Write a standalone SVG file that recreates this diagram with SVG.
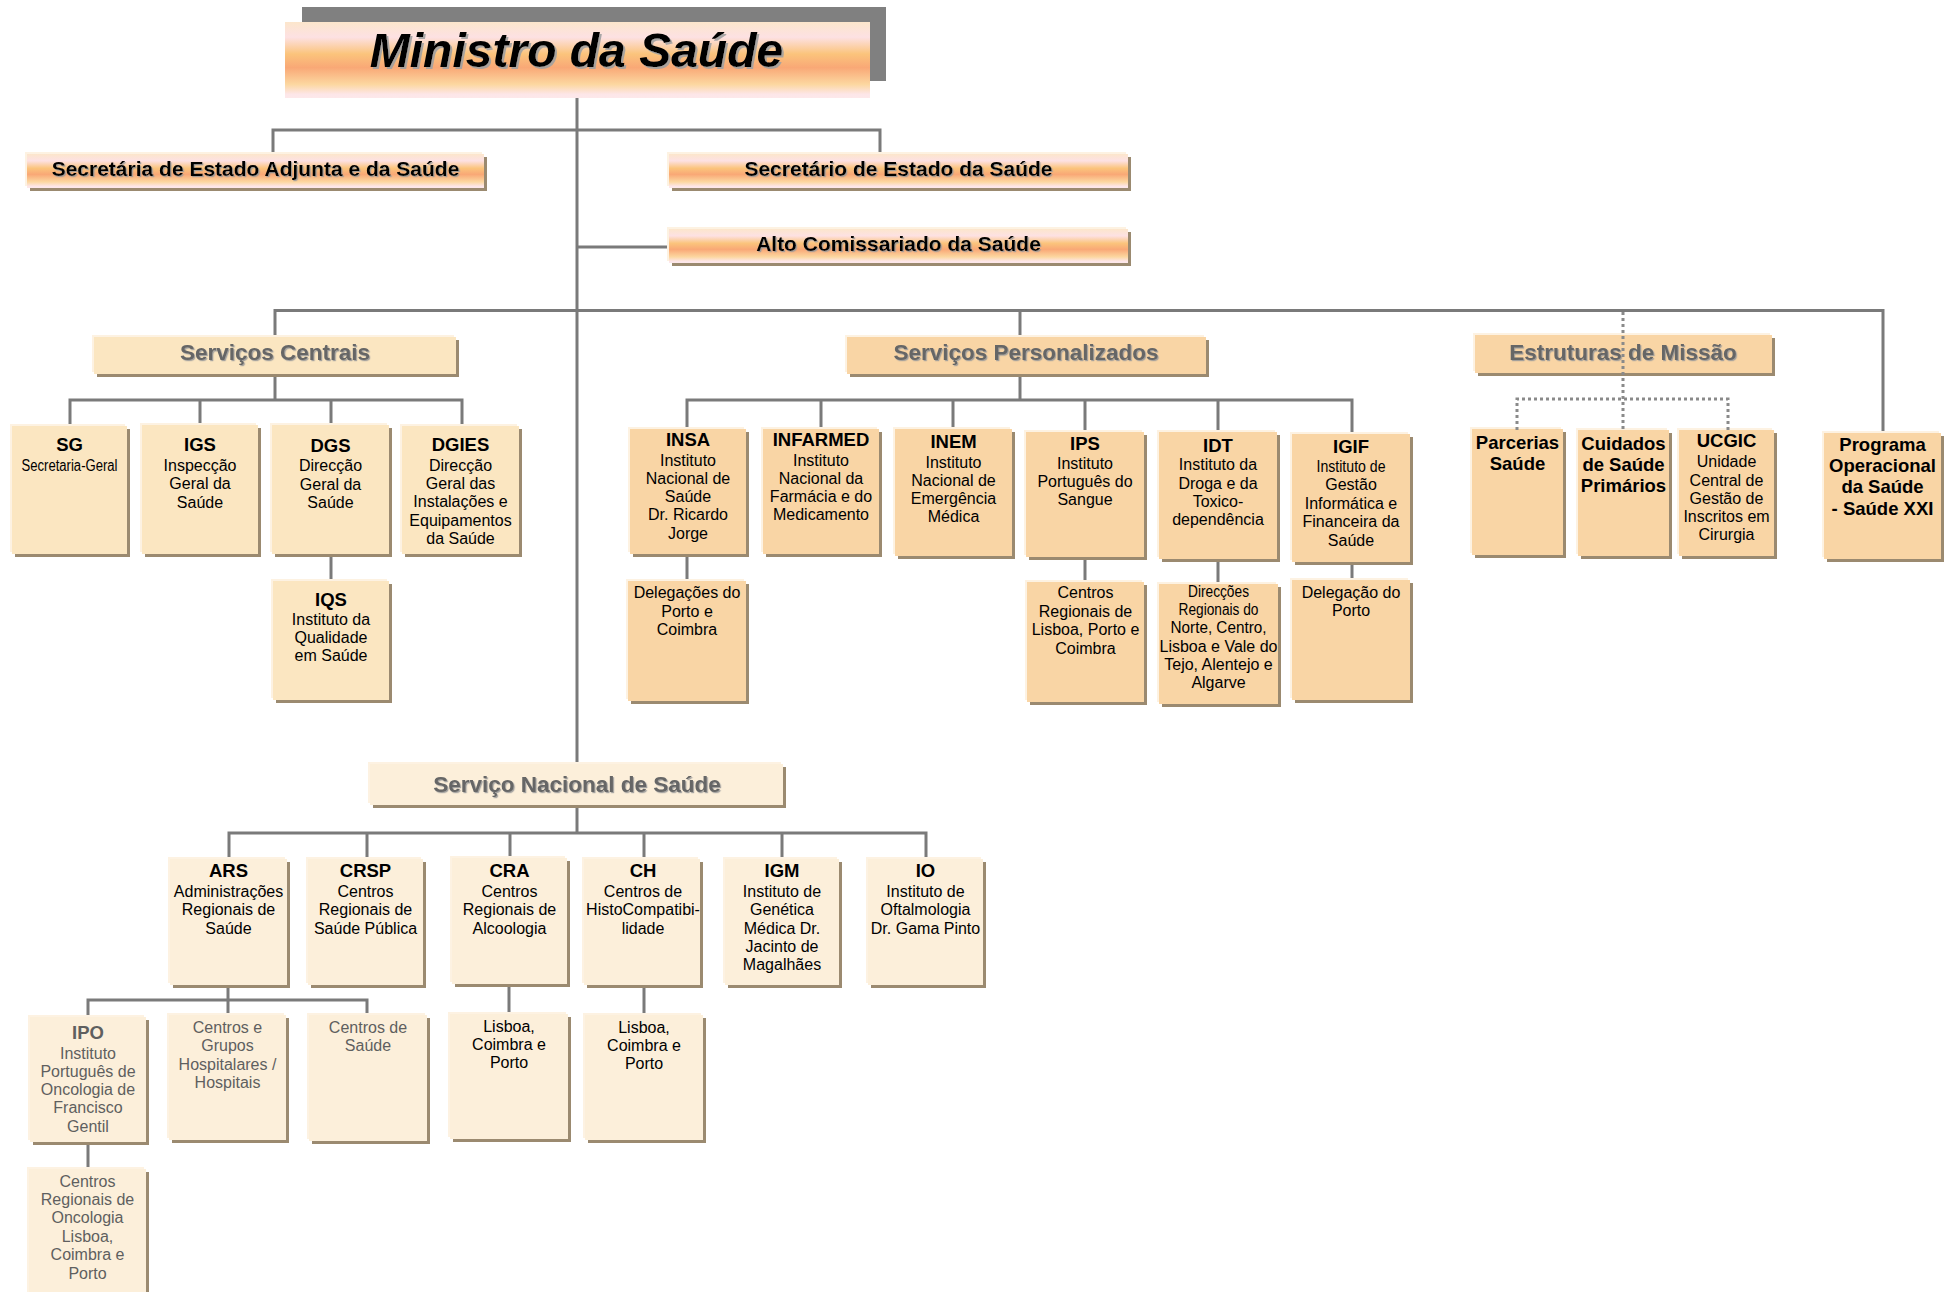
<svg xmlns="http://www.w3.org/2000/svg" width="1959" height="1292" viewBox="0 0 1959 1292">
<defs>
<linearGradient id="gr" x1="0" y1="0" x2="0" y2="1">
<stop offset="0" stop-color="#FCE6CC"/>
<stop offset="0.2" stop-color="#FDE1E3"/>
<stop offset="0.42" stop-color="#FBC47C"/>
<stop offset="0.6" stop-color="#F9A876"/>
<stop offset="0.82" stop-color="#FCD7A0"/>
<stop offset="0.95" stop-color="#FDE6E8"/>
<stop offset="1" stop-color="#FDE8EA"/>
</linearGradient>
<filter id="ts" x="-5%" y="-20%" width="110%" height="150%">
<feDropShadow dx="1.2" dy="1.2" stdDeviation="0.4" flood-color="#9a9a9a" flood-opacity="0.9"/>
</filter>
<filter id="ts2" x="-5%" y="-20%" width="110%" height="150%">
<feDropShadow dx="2" dy="2" stdDeviation="0.6" flood-color="#a0a0a0" flood-opacity="0.9"/>
</filter>
</defs>
<style>
.ln{stroke:#7a7a7a;stroke-width:3;fill:none}
.dt{stroke:#8a8a8a;stroke-width:3;stroke-dasharray:3 3;fill:none}
.hl{fill:#FDF2E2}
.sh{fill:#9B8A70}
.c1{fill:#FBE6C1}
.c2{fill:#F9D5A5}
.c3{fill:#FCEFDA}
.g{fill:url(#gr)}
text{font-family:"Liberation Sans",Arial,sans-serif;text-anchor:middle;fill:#000}
.b{font-weight:bold;font-size:18.5px}
.r{font-size:16px}
.h{font-weight:bold;font-size:22.5px;fill:#666;filter:url(#ts)}
.s{font-weight:bold;font-size:21px;filter:url(#ts)}
.gy{fill:#5f5f5f}
</style>
<rect width="1959" height="1292" fill="#ffffff"/>

<g id="connectors">
<path class="ln" d="M577,98 V764"/>
<path class="ln" d="M273,154 V130 H880 V154"/>
<path class="ln" d="M577,247 H669"/>
<path class="ln" d="M275,337 V310.5 H1883 V433"/>
<path class="ln" d="M1020,310.5 V337"/>
<path class="ln" d="M275,374 V400"/>
<path class="ln" d="M70,426 V400 H462 V426"/>
<path class="ln" d="M200,400 V425 M331,400 V425"/>
<path class="ln" d="M331,554 V581"/>
<path class="ln" d="M1020,374 V400"/>
<path class="ln" d="M687,429 V400 H1352 V434"/>
<path class="ln" d="M821,400 V429 M953,400 V429 M1085,400 V432 M1218,400 V432"/>
<path class="ln" d="M687,554 V581 M1085,557 V582 M1218,559 V584 M1352,562 V580"/>
<path class="ln" d="M577,805 V833"/>
<path class="ln" d="M229,859 V833 H926 V859"/>
<path class="ln" d="M367,833 V859 M510,833 V858 M644,833 V859 M782,833 V859"/>
<path class="ln" d="M228,985 V1000"/>
<path class="ln" d="M88,1017 V1000 H367 V1015 M228,1000 V1015"/>
<path class="ln" d="M509,984 V1014 M644,985 V1015 M88,1142 V1169"/>
</g>

<g id="ministro">
<rect x="302" y="7" width="584" height="74" fill="#808080"/>
<rect class="g" x="285" y="22" width="585" height="76"/>
<text x="576.5" y="67" font-size="48" font-weight="bold" font-style="italic" filter="url(#ts2)">Ministro da Saúde</text>
</g>

<g id="sec-adjunta">
<rect class="hl" x="25" y="152" width="457" height="34"/><rect class="sh" x="30" y="157" width="457" height="34"/><rect class="g" x="27" y="154" width="457" height="34"/>
<text class="s" x="255.5" y="176">Secretária de Estado Adjunta e da Saúde</text>
</g>
<g id="sec-estado">
<rect class="hl" x="667" y="152" width="459" height="34"/><rect class="sh" x="672" y="157" width="459" height="34"/><rect class="g" x="669" y="154" width="459" height="34"/>
<text class="s" x="898.5" y="175.5">Secretário de Estado da Saúde</text>
</g>
<g id="alto-comissariado">
<rect class="hl" x="667" y="227" width="459" height="34"/><rect class="sh" x="672" y="232" width="459" height="34"/><rect class="g" x="669" y="229" width="459" height="34"/>
<text class="s" x="898.5" y="251">Alto Comissariado da Saúde</text>
</g>

<g id="servicos-centrais">
<rect class="hl" x="92" y="335" width="362" height="37"/><rect class="sh" x="97" y="340" width="362" height="37"/><rect class="c1" x="94" y="337" width="362" height="37"/>
<text class="h" x="275" y="360">Serviços Centrais</text>
</g>
<g id="servicos-personalizados">
<rect class="hl" x="845" y="335" width="359" height="37"/><rect class="sh" x="850" y="340" width="359" height="37"/><rect class="c2" x="847" y="337" width="359" height="37"/>
<text class="h" x="1026" y="360">Serviços Personalizados</text>
</g>
<g id="estruturas-missao">
<rect class="hl" x="1473" y="333" width="297" height="38"/><rect class="sh" x="1478" y="338" width="297" height="38"/><rect class="c2" x="1475" y="335" width="297" height="38"/>
<text class="h" x="1623" y="360">Estruturas de Missão</text>
</g>
<g id="sns">
<rect class="hl" x="368" y="762" width="413" height="41"/><rect class="sh" x="373" y="767" width="413" height="41"/><rect class="c3" x="370" y="764" width="413" height="41"/>
<text class="h" x="577" y="792">Serviço Nacional de Saúde</text>
</g>

<g id="sg">
<rect class="hl" x="10" y="424" width="115" height="128"/><rect class="sh" x="15" y="429" width="115" height="128"/><rect class="c1" x="12" y="426" width="115" height="128"/>
<text class="b" x="69.5" y="451">SG</text>
<text class="r" x="69.5" y="471" textLength="96" lengthAdjust="spacingAndGlyphs">Secretaria-Geral</text>
</g>
<g id="igs">
<rect class="hl" x="140" y="423" width="116" height="129"/><rect class="sh" x="145" y="428" width="116" height="129"/><rect class="c1" x="142" y="425" width="116" height="129"/>
<text class="b" x="200" y="451">IGS</text>
<text class="r" x="200" y="471">Inspecção</text><text class="r" x="200" y="489">Geral da</text><text class="r" x="200" y="507.5">Saúde</text>
</g>
<g id="dgs">
<rect class="hl" x="270" y="423" width="117" height="129"/><rect class="sh" x="275" y="428" width="117" height="129"/><rect class="c1" x="272" y="425" width="117" height="129"/>
<text class="b" x="330.5" y="451.5">DGS</text>
<text class="r" x="330.5" y="471">Direcção</text><text class="r" x="330.5" y="489.5">Geral da</text><text class="r" x="330.5" y="507.5">Saúde</text>
</g>
<g id="dgies">
<rect class="hl" x="400" y="424" width="117" height="128"/><rect class="sh" x="405" y="429" width="117" height="128"/><rect class="c1" x="402" y="426" width="117" height="128"/>
<text class="b" x="460.5" y="451">DGIES</text>
<text class="r" x="460.5" y="471">Direcção</text><text class="r" x="460.5" y="489">Geral das</text><text class="r" x="460.5" y="507">Instalações e</text><text class="r" x="460.5" y="525.5">Equipamentos</text><text class="r" x="460.5" y="544">da Saúde</text>
</g>
<g id="iqs">
<rect class="hl" x="271" y="579" width="116" height="119"/><rect class="sh" x="276" y="584" width="116" height="119"/><rect class="c1" x="273" y="581" width="116" height="119"/>
<text class="b" x="331" y="606">IQS</text>
<text class="r" x="331" y="624.5">Instituto da</text><text class="r" x="331" y="643">Qualidade</text><text class="r" x="331" y="661">em Saúde</text>
</g>

<g id="insa">
<rect class="hl" x="628" y="427" width="116" height="125"/><rect class="sh" x="633" y="432" width="116" height="125"/><rect class="c2" x="630" y="429" width="116" height="125"/>
<text class="b" x="688" y="446">INSA</text>
<text class="r" x="688" y="465.5">Instituto</text><text class="r" x="688" y="483.5">Nacional de</text><text class="r" x="688" y="502">Saúde</text><text class="r" x="688" y="520">Dr. Ricardo</text><text class="r" x="688" y="538.5">Jorge</text>
</g>
<g id="infarmed">
<rect class="hl" x="761" y="427" width="116" height="125"/><rect class="sh" x="766" y="432" width="116" height="125"/><rect class="c2" x="763" y="429" width="116" height="125"/>
<text class="b" x="821" y="446">INFARMED</text>
<text class="r" x="821" y="465.5">Instituto</text><text class="r" x="821" y="483.5">Nacional da</text><text class="r" x="821" y="502">Farmácia e do</text><text class="r" x="821" y="520">Medicamento</text>
</g>
<g id="inem">
<rect class="hl" x="893" y="427" width="117" height="127"/><rect class="sh" x="898" y="432" width="117" height="127"/><rect class="c2" x="895" y="429" width="117" height="127"/>
<text class="b" x="953.5" y="448">INEM</text>
<text class="r" x="953.5" y="467.5">Instituto</text><text class="r" x="953.5" y="486">Nacional de</text><text class="r" x="953.5" y="504">Emergência</text><text class="r" x="953.5" y="522">Médica</text>
</g>
<g id="ips">
<rect class="hl" x="1024" y="430" width="118" height="125"/><rect class="sh" x="1029" y="435" width="118" height="125"/><rect class="c2" x="1026" y="432" width="118" height="125"/>
<text class="b" x="1085" y="450">IPS</text>
<text class="r" x="1085" y="468.5">Instituto</text><text class="r" x="1085" y="487">Português do</text><text class="r" x="1085" y="505">Sangue</text>
</g>
<g id="idt">
<rect class="hl" x="1157" y="430" width="118" height="127"/><rect class="sh" x="1162" y="435" width="118" height="127"/><rect class="c2" x="1159" y="432" width="118" height="127"/>
<text class="b" x="1218" y="451.5">IDT</text>
<text class="r" x="1218" y="470">Instituto da</text><text class="r" x="1218" y="488.5">Droga e da</text><text class="r" x="1218" y="506.5">Toxico-</text><text class="r" x="1218" y="525">dependência</text>
</g>
<g id="igif">
<rect class="hl" x="1290" y="432" width="118" height="128"/><rect class="sh" x="1295" y="437" width="118" height="128"/><rect class="c2" x="1292" y="434" width="118" height="128"/>
<text class="b" x="1351" y="453">IGIF</text>
<text class="r" x="1351" y="471.5" font-size="14.5" textLength="69" lengthAdjust="spacingAndGlyphs">Instituto de</text><text class="r" x="1351" y="490" font-size="15">Gestão</text><text class="r" x="1351" y="508.5">Informática e</text><text class="r" x="1351" y="527">Financeira da</text><text class="r" x="1351" y="545.5">Saúde</text>
</g>
<g id="insa-delegacoes">
<rect class="hl" x="626" y="579" width="118" height="120"/><rect class="sh" x="631" y="584" width="118" height="120"/><rect class="c2" x="628" y="581" width="118" height="120"/>
<text class="r" x="687" y="598">Delegações do</text><text class="r" x="687" y="616.5">Porto e</text><text class="r" x="687" y="635">Coimbra</text>
</g>
<g id="ips-centros">
<rect class="hl" x="1025" y="580" width="117" height="120"/><rect class="sh" x="1030" y="585" width="117" height="120"/><rect class="c2" x="1027" y="582" width="117" height="120"/>
<text class="r" x="1085.5" y="598">Centros</text><text class="r" x="1085.5" y="616.5">Regionais de</text><text class="r" x="1085.5" y="635">Lisboa, Porto e</text><text class="r" x="1085.5" y="653.5">Coimbra</text>
</g>
<g id="idt-direccoes">
<rect class="hl" x="1157" y="582" width="119" height="120"/><rect class="sh" x="1162" y="587" width="119" height="120"/><rect class="c2" x="1159" y="584" width="119" height="120"/>
<text class="r" x="1218.5" y="597" font-size="14" textLength="61" lengthAdjust="spacingAndGlyphs">Direcções</text>
<text class="r" x="1218.5" y="615" font-size="14" textLength="80" lengthAdjust="spacingAndGlyphs">Regionais do</text>
<text class="r" x="1218.5" y="633" textLength="96" lengthAdjust="spacingAndGlyphs">Norte, Centro,</text>
<text class="r" x="1218.5" y="651.5">Lisboa e Vale do</text><text class="r" x="1218.5" y="670">Tejo, Alentejo e</text><text class="r" x="1218.5" y="688">Algarve</text>
</g>
<g id="igif-delegacao">
<rect class="hl" x="1290" y="578" width="118" height="120"/><rect class="sh" x="1295" y="583" width="118" height="120"/><rect class="c2" x="1292" y="580" width="118" height="120"/>
<text class="r" x="1351" y="598">Delegação do</text><text class="r" x="1351" y="616">Porto</text>
</g>

<g id="parcerias">
<rect class="hl" x="1470" y="427" width="91" height="126"/><rect class="sh" x="1475" y="432" width="91" height="126"/><rect class="c2" x="1472" y="429" width="91" height="126"/>
<text class="b" x="1517.5" y="449">Parcerias</text><text class="b" x="1517.5" y="470">Saúde</text>
</g>
<g id="cuidados">
<rect class="hl" x="1576" y="428" width="91" height="126"/><rect class="sh" x="1581" y="433" width="91" height="126"/><rect class="c2" x="1578" y="430" width="91" height="126"/>
<text class="b" x="1623.5" y="450">Cuidados</text><text class="b" x="1623.5" y="471">de Saúde</text><text class="b" x="1623.5" y="492">Primários</text>
</g>
<g id="ucgic">
<rect class="hl" x="1677" y="428" width="95" height="126"/><rect class="sh" x="1682" y="433" width="95" height="126"/><rect class="c2" x="1679" y="430" width="95" height="126"/>
<text class="b" x="1726.5" y="447">UCGIC</text>
<text class="r" x="1726.5" y="467">Unidade</text><text class="r" x="1726.5" y="485.5">Central de</text><text class="r" x="1726.5" y="503.5">Gestão de</text><text class="r" x="1726.5" y="522">Inscritos em</text><text class="r" x="1726.5" y="540">Cirurgia</text>
</g>
<g id="programa">
<rect class="hl" x="1822" y="431" width="117" height="126"/><rect class="sh" x="1827" y="436" width="117" height="126"/><rect class="c2" x="1824" y="433" width="117" height="126"/>
<text class="b" x="1882.5" y="451">Programa</text><text class="b" x="1882.5" y="472">Operacional</text><text class="b" x="1882.5" y="493">da Saúde</text><text class="b" x="1882.5" y="515">- Saúde XXI</text>
</g>

<g id="dotted-connectors">
<path class="dt" d="M1623,312 V430"/>
<path class="dt" d="M1517,430 V399 H1728 V430"/>
</g>

<g id="ars">
<rect class="hl" x="168" y="857" width="117" height="126"/><rect class="sh" x="173" y="862" width="117" height="126"/><rect class="c3" x="170" y="859" width="117" height="126"/>
<text class="b" x="228.5" y="877">ARS</text>
<text class="r" x="228.5" y="896.5">Administrações</text><text class="r" x="228.5" y="915">Regionais de</text><text class="r" x="228.5" y="933.5">Saúde</text>
</g>
<g id="crsp">
<rect class="hl" x="306" y="857" width="115" height="126"/><rect class="sh" x="311" y="862" width="115" height="126"/><rect class="c3" x="308" y="859" width="115" height="126"/>
<text class="b" x="365.5" y="877">CRSP</text>
<text class="r" x="365.5" y="896.5">Centros</text><text class="r" x="365.5" y="915">Regionais de</text><text class="r" x="365.5" y="933.5">Saúde Pública</text>
</g>
<g id="cra">
<rect class="hl" x="450" y="856" width="115" height="126"/><rect class="sh" x="455" y="861" width="115" height="126"/><rect class="c3" x="452" y="858" width="115" height="126"/>
<text class="b" x="509.5" y="877">CRA</text>
<text class="r" x="509.5" y="896.5">Centros</text><text class="r" x="509.5" y="915">Regionais de</text><text class="r" x="509.5" y="933.5">Alcoologia</text>
</g>
<g id="ch">
<rect class="hl" x="582" y="857" width="116" height="126"/><rect class="sh" x="587" y="862" width="116" height="126"/><rect class="c3" x="584" y="859" width="116" height="126"/>
<text class="b" x="643" y="877">CH</text>
<text class="r" x="643" y="896.5">Centros de</text><text class="r" x="643" y="915">HistoCompatibi-</text><text class="r" x="643" y="933.5">lidade</text>
</g>
<g id="igm">
<rect class="hl" x="723" y="857" width="114" height="126"/><rect class="sh" x="728" y="862" width="114" height="126"/><rect class="c3" x="725" y="859" width="114" height="126"/>
<text class="b" x="782" y="877">IGM</text>
<text class="r" x="782" y="896.5">Instituto de</text><text class="r" x="782" y="915">Genética</text><text class="r" x="782" y="933.5">Médica Dr.</text><text class="r" x="782" y="951.5">Jacinto de</text><text class="r" x="782" y="970">Magalhães</text>
</g>
<g id="io">
<rect class="hl" x="866" y="857" width="115" height="126"/><rect class="sh" x="871" y="862" width="115" height="126"/><rect class="c3" x="868" y="859" width="115" height="126"/>
<text class="b" x="925.5" y="877">IO</text>
<text class="r" x="925.5" y="896.5">Instituto de</text><text class="r" x="925.5" y="915">Oftalmologia</text><text class="r" x="925.5" y="933.5">Dr. Gama Pinto</text>
</g>

<g id="ipo">
<rect class="hl" x="28" y="1015" width="116" height="125"/><rect class="sh" x="33" y="1020" width="116" height="125"/><rect class="c3" x="30" y="1017" width="116" height="125"/>
<text class="b gy" x="88" y="1039">IPO</text>
<text class="r gy" x="88" y="1059">Instituto</text><text class="r gy" x="88" y="1077">Português de</text><text class="r gy" x="88" y="1095">Oncologia de</text><text class="r gy" x="88" y="1113">Francisco</text><text class="r gy" x="88" y="1131.5">Gentil</text>
</g>
<g id="hospitais">
<rect class="hl" x="167" y="1013" width="117" height="125"/><rect class="sh" x="172" y="1018" width="117" height="125"/><rect class="c3" x="169" y="1015" width="117" height="125"/>
<text class="r gy" x="227.5" y="1033">Centros e</text><text class="r gy" x="227.5" y="1051">Grupos</text><text class="r gy" x="227.5" y="1069.5">Hospitalares /</text><text class="r gy" x="227.5" y="1087.5">Hospitais</text>
</g>
<g id="centros-saude">
<rect class="hl" x="307" y="1013" width="118" height="126"/><rect class="sh" x="312" y="1018" width="118" height="126"/><rect class="c3" x="309" y="1015" width="118" height="126"/>
<text class="r gy" x="368" y="1033">Centros de</text><text class="r gy" x="368" y="1051">Saúde</text>
</g>
<g id="cra-locais">
<rect class="hl" x="448" y="1012" width="118" height="125"/><rect class="sh" x="453" y="1017" width="118" height="125"/><rect class="c3" x="450" y="1014" width="118" height="125"/>
<text class="r" x="509" y="1032">Lisboa,</text><text class="r" x="509" y="1050">Coimbra e</text><text class="r" x="509" y="1068">Porto</text>
</g>
<g id="ch-locais">
<rect class="hl" x="583" y="1013" width="118" height="125"/><rect class="sh" x="588" y="1018" width="118" height="125"/><rect class="c3" x="585" y="1015" width="118" height="125"/>
<text class="r" x="644" y="1033">Lisboa,</text><text class="r" x="644" y="1051">Coimbra e</text><text class="r" x="644" y="1069">Porto</text>
</g>
<g id="ipo-centros">
<rect class="hl" x="27" y="1167" width="117" height="130"/><rect class="sh" x="32" y="1172" width="117" height="130"/><rect class="c3" x="29" y="1169" width="117" height="130"/>
<text class="r gy" x="87.5" y="1187">Centros</text><text class="r gy" x="87.5" y="1205">Regionais de</text><text class="r gy" x="87.5" y="1223">Oncologia</text><text class="r gy" x="87.5" y="1241.5">Lisboa,</text><text class="r gy" x="87.5" y="1260">Coimbra e</text><text class="r gy" x="87.5" y="1278.5">Porto</text>
</g>
</svg>
